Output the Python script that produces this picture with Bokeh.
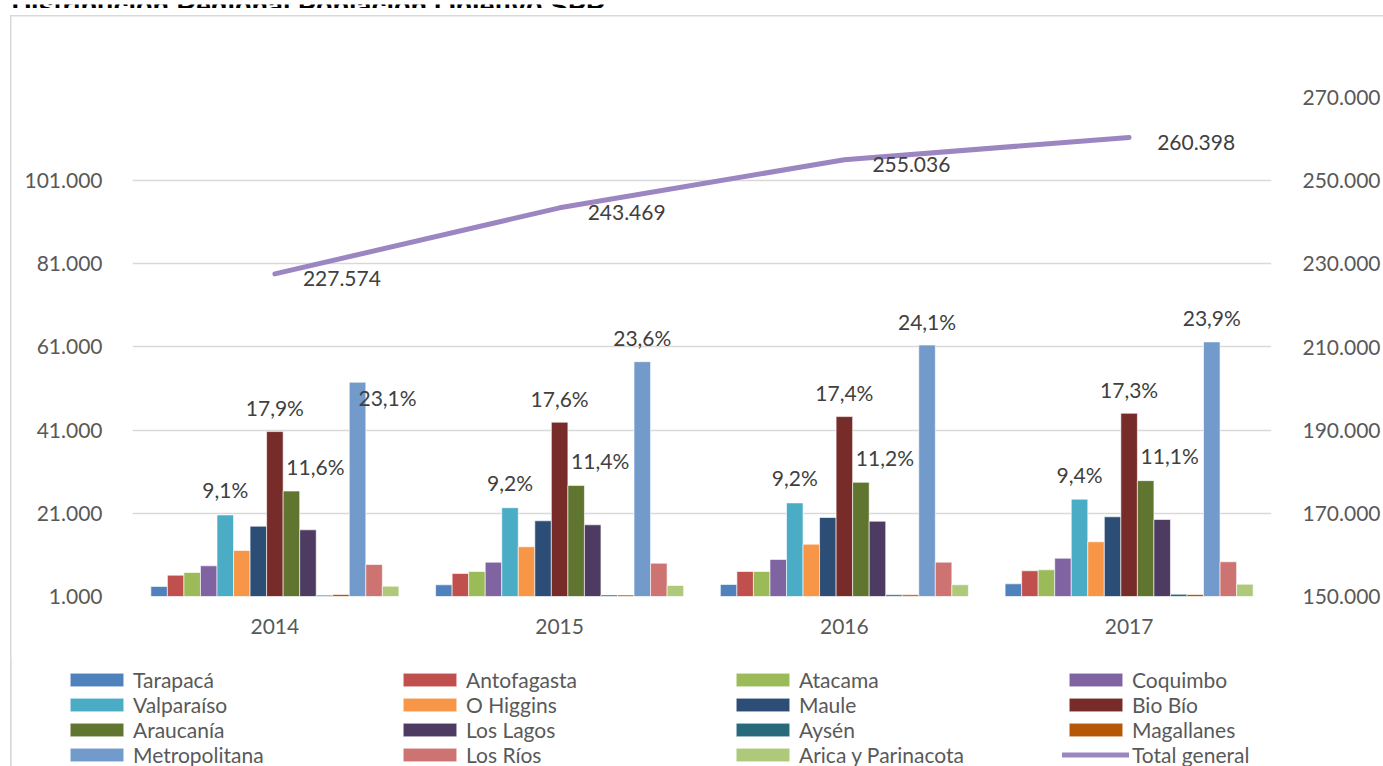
from bokeh.plotting import figure
from bokeh.layouts import column
from bokeh.models import (Range1d, LinearAxis, FixedTicker, Legend, LegendItem,
                          ColumnDataSource)
from bokeh.core.properties import value
from bokeh.embed import file_html
from bokeh.resources import INLINE

# ---------------- data ----------------
title_text = "Distribución Regional Población Objetivo SPR"
years = ["2014", "2015", "2016", "2017"]
regions = ["Tarapacá", "Antofagasta", "Atacama", "Coquimbo", "Valparaíso",
           "O Higgins", "Maule", "Bio Bío", "Araucanía", "Los Lagos", "Aysén",
           "Magallanes", "Metropolitana", "Los Ríos", "Arica y Parinacota"]
tarapaca = [3400, 3810, 3890, 4050]
antofagasta = [6120, 6530, 7010, 7180]
atacama = [6770, 7010, 7010, 7420]
coquimbo = [8380, 9250, 9900, 10210]
valparaiso = [20600, 22350, 23500, 24400]
ohiggins = [12060, 12950, 13570, 14150]
maule = [17900, 19200, 19990, 20160]
biobio = [40650, 42900, 44250, 45050]
araucania = [26350, 27700, 28450, 28850]
loslagos = [17030, 18240, 19100, 19510]
aysen = [1310, 1360, 1400, 1550]
magallanes = [1480, 1360, 1400, 1480]
metropolitana = [52500, 57450, 61450, 62200]
losrios = [8690, 9000, 9250, 9340]
arica = [3480, 3640, 3810, 3960]
total_name = "Total general"
total_general = [227574, 243469, 255036, 260398]

pct_valparaiso = ["9,1%", "9,2%", "9,2%", "9,4%"]
pct_biobio = ["17,9%", "17,6%", "17,4%", "17,3%"]
pct_araucania = ["11,6%", "11,4%", "11,2%", "11,1%"]
pct_metropolitana = ["23,1%", "23,6%", "24,1%", "23,9%"]

left_ticks = [1000, 21000, 41000, 61000, 81000, 101000]
right_ticks = [150000, 170000, 190000, 210000, 230000, 250000, 270000]

colors = ["#4F81BD", "#C0504D", "#9BBB59", "#8064A2", "#4BACC6", "#F79646",
          "#2C4D75", "#772C2A", "#5F7530", "#4D3B62", "#276A7C", "#B65708",
          "#729ACA", "#CD7371", "#AFC97A"]
line_color = "#9C86C2"
series = [tarapaca, antofagasta, atacama, coquimbo, valparaiso, ohiggins, maule,
          biobio, araucania, loslagos, aysen, magallanes, metropolitana, losrios, arica]

FONT = "Lato"
GRID = "#D9D9D9"


def fmt(v):
    return f"{v:,}".replace(",", ".")


W = 1383
H_TITLE, H_MAIN, H_LEG = 8, 650, 108

border_css = {
    "background-color": "white",
    "background-image": f"linear-gradient({GRID}, {GRID}), linear-gradient({GRID}, {GRID})",
    "background-repeat": "no-repeat",
}


def strip(height, xr, yr):
    f = figure(width=W, height=height, output_backend="svg", toolbar_location=None,
               x_range=xr, y_range=yr,
               x_axis_location=None, y_axis_location=None,
               min_border=0, min_border_left=0, min_border_right=0,
               min_border_top=0, min_border_bottom=0, frame_align=False)
    f.outline_line_color = None
    f.grid.visible = False
    return f


# ---------------- title strip (clipped at the top like the source) ----------------
ft = strip(H_TITLE, Range1d(0, W), Range1d(0, H_TITLE))
ft.text(x=[11], y=[H_TITLE - 2], text=[title_text],
        text_font=value("Liberation Sans"), text_font_style="bold",
        text_font_size="27px", text_color="#000000",
        text_baseline="alphabetic", text_align="left")

# ---------------- main chart ----------------
FL, FR, FT, FB = 132, 1271, 89, 588  # frame in canvas px
y_lo, y_hi = 1000, 120960
r_lo, r_hi = 150000, 270000
px_cat = (FR - FL) / 4.0
upp_left = (y_hi - y_lo) / (FB - FT)
upp_right = (r_hi - r_lo) / (FB - FT)

p = figure(width=W, height=H_MAIN, output_backend="svg", toolbar_location=None,
           x_range=Range1d(-0.5, 3.5), y_range=Range1d(y_lo, y_hi),
           min_border_left=FL, min_border_right=W - FR,
           min_border_top=FT, min_border_bottom=H_MAIN - FB, frame_align=False)
p.styles = dict(border_css, **{
    "background-size": "1.5px 100%, 100% 1.5px",
    "background-position": "10px 7px, 10px 7px",
})
p.outline_line_color = None
p.background_fill_color = "white"
p.border_fill_alpha = 0
p.extra_y_ranges = {"right": Range1d(r_lo, r_hi)}

p.xgrid.visible = False
p.ygrid.ticker = FixedTicker(ticks=left_ticks)
p.ygrid.grid_line_color = GRID
p.ygrid.grid_line_width = 1.3

for ax in [p.xaxis[0], p.yaxis[0]]:
    ax.major_tick_line_color = None
    ax.minor_tick_line_color = None
    ax.axis_line_color = None
    ax.major_label_text_font = FONT
    ax.major_label_text_font_size = "21px"
    ax.major_label_text_color = "#595959"

p.xaxis.ticker = FixedTicker(ticks=[0, 1, 2, 3])
p.xaxis.major_label_overrides = {i: y for i, y in enumerate(years)}
p.xaxis.major_label_standoff = 16
p.yaxis.ticker = FixedTicker(ticks=left_ticks)
p.yaxis.major_label_overrides = {t: fmt(t) for t in left_ticks}
p.yaxis.major_label_standoff = 24

ra = LinearAxis(y_range_name="right", ticker=FixedTicker(ticks=right_ticks))
ra.major_label_overrides = {t: fmt(t) for t in right_ticks}
ra.major_tick_line_color = None
ra.minor_tick_line_color = None
ra.axis_line_color = None
ra.major_label_text_font = FONT
ra.major_label_text_font_size = "21px"
ra.major_label_text_color = "#595959"
ra.major_label_standoff = 25
p.add_layout(ra, "right")

n = len(regions)
bw = 0.871 / n
for j, (vals, col) in enumerate(zip(series, colors)):
    xs = [i + (j - (n - 1) / 2) * bw for i in range(len(years))]
    src = ColumnDataSource(dict(x=xs, top=vals))
    p.vbar(x="x", top="top", bottom=y_lo, width=bw, source=src,
           fill_color=col, line_color="white", line_width=0.6)

p.line(x=list(range(len(years))), y=total_general, y_range_name="right",
       line_color=line_color, line_width=5, line_cap="round", line_join="round")

tl_x = [i + 28 / px_cat for i in range(len(years))]
tl_y = [v - 5 * upp_right for v in total_general]
p.text(x=tl_x, y=tl_y, text=[fmt(v) for v in total_general], y_range_name="right",
       text_font=value(FONT), text_font_size="21px", text_color="#404040",
       text_align="left", text_baseline="middle")


def pct_labels(idx, labels, dx_px, dy_px, special=None):
    vals = series[idx]
    xs, ys = [], []
    for i in range(len(years)):
        dx, dy = dx_px, dy_px
        if special and i in special:
            dx, dy = special[i]
        xs.append(i + (idx - (n - 1) / 2) * bw + dx / px_cat)
        ys.append(vals[i] + dy * upp_left)
    p.text(x=xs, y=ys, text=labels, text_font=value(FONT), text_font_size="21px",
           text_color="#404040", text_align="center", text_baseline="middle")


pct_labels(4, pct_valparaiso, 0, 25)
pct_labels(7, pct_biobio, 0, 24)
pct_labels(8, pct_araucania, 24, 25)
pct_labels(12, pct_metropolitana, 0, 24, special={0: (30, -15)})

# ---------------- legend strip ----------------
fl = strip(H_LEG, Range1d(0, 1), Range1d(0, 1))
fl.styles = dict(border_css, **{
    "background-size": "1.5px 100%",
    "background-position": "10px 0px",
})
fl.background_fill_alpha = 0
fl.border_fill_alpha = 0

# legend-only renderers: their single mark lies outside the visible range
items = []
for name, col in zip(regions, colors):
    r = fl.vbar(x=[-5], top=[-5], bottom=-6, width=0.1, fill_color=col,
                line_color="white", line_width=0.6)
    items.append(LegendItem(label=name, renderers=[r]))
rl = fl.line(x=[-6, -5], y=[-6, -5], line_color=line_color, line_width=5,
             line_cap="round")
items.append(LegendItem(label=total_name, renderers=[rl]))

# bokeh insets area swatches by 10% per side: 67 x 17 -> ~54 x 14 drawn
legend = Legend(items=items, orientation="horizontal", ncols=4,
                location=(63, -1), glyph_width=67, glyph_height=17,
                label_standoff=3, label_width=263, spacing=0, padding=0, margin=0,
                border_line_color=None, background_fill_alpha=0,
                label_text_font=FONT, label_text_font_size="21px",
                label_text_color="#595959", label_height=20)
fl.add_layout(legend, "center")

layout = column(ft, p, fl, spacing=0)
open("out.html", "w").write(file_html(layout, INLINE))
